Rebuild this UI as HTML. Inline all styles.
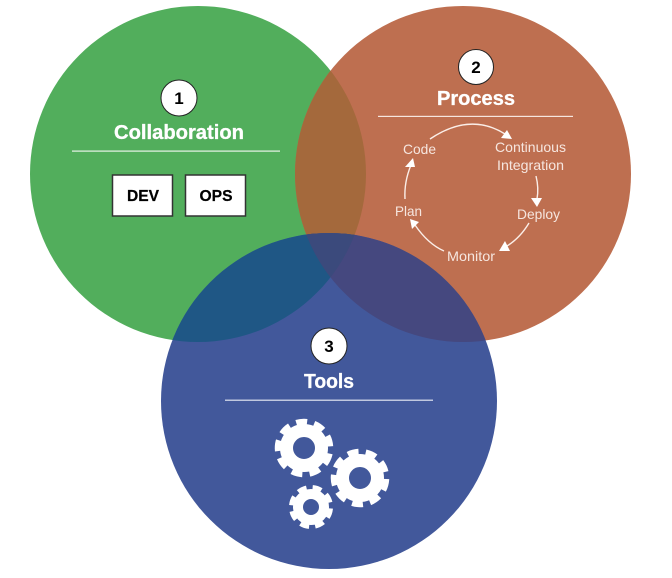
<!DOCTYPE html>
<html>
<head>
<meta charset="utf-8">
<style>
html,body{margin:0;padding:0;background:#fff;width:672px;height:578px;overflow:hidden}
svg{display:block}
text{font-family:"Liberation Sans",sans-serif}
.t{fill:#fff;font-weight:bold;font-size:20px;text-anchor:middle;stroke:#fff;stroke-width:.3}
.l{fill:#f6e6df;font-size:14px;text-anchor:middle}
.n{fill:#000;font-weight:bold;font-size:17px;text-anchor:middle}
.b{fill:#000;font-weight:bold;font-size:16px;text-anchor:middle;stroke:#000;stroke-width:.25}
.a{fill:none;stroke:#fbeee8;stroke-width:1.4}
.h{fill:#fff}
</style>
</head>
<body>
<svg width="672" height="578" viewBox="0 0 672 578" xmlns="http://www.w3.org/2000/svg">
<defs>
<clipPath id="cg"><circle cx="198" cy="174" r="168"/></clipPath>
<clipPath id="co"><circle cx="463" cy="174" r="168"/></clipPath>
<clipPath id="cb"><circle cx="329" cy="401" r="168"/></clipPath>
</defs>
<circle cx="198" cy="174" r="168" fill="#52ae5c"/>
<circle cx="463" cy="174" r="168" fill="#be6f50"/>
<circle cx="329" cy="401" r="168" fill="#42589b"/>
<g clip-path="url(#cg)"><circle cx="463" cy="174" r="168" fill="#a4693c"/></g>
<g clip-path="url(#cg)"><circle cx="329" cy="401" r="168" fill="#1f5785"/></g>
<g clip-path="url(#co)"><circle cx="329" cy="401" r="168" fill="#45487f"/></g>
<g clip-path="url(#cg)"><g clip-path="url(#co)"><circle cx="329" cy="401" r="168" fill="#3b4a7c"/></g></g>

<circle cx="179" cy="98" r="18" fill="#fff" stroke="#222" stroke-width="1"/>
<text class="n" x="179" y="104">1</text>
<text class="t" x="179" y="139" textLength="130" lengthAdjust="spacingAndGlyphs">Collaboration</text>
<rect x="72" y="150.5" width="208" height="1.2" fill="#e8f3e8"/>
<rect x="112.5" y="175" width="60" height="41" fill="#fff" stroke="#333" stroke-width="1.5"/>
<rect x="185.5" y="175" width="60" height="41" fill="#fff" stroke="#333" stroke-width="1.5"/>
<text class="b" x="143" y="201" textLength="32" lengthAdjust="spacingAndGlyphs">DEV</text>
<text class="b" x="216" y="201" textLength="33" lengthAdjust="spacingAndGlyphs">OPS</text>

<circle cx="476" cy="67" r="17.5" fill="#fff" stroke="#222" stroke-width="1"/>
<text class="n" x="476" y="73">2</text>
<text class="t" x="476" y="105" textLength="78" lengthAdjust="spacingAndGlyphs">Process</text>
<rect x="378" y="115.8" width="195" height="1.2" fill="#f6e6df"/>
<text class="l" x="419.5" y="154" textLength="33" lengthAdjust="spacingAndGlyphs">Code</text>
<text class="l" x="530.5" y="152" textLength="71" lengthAdjust="spacingAndGlyphs">Continuous</text>
<text class="l" x="530.5" y="170" textLength="67" lengthAdjust="spacingAndGlyphs">Integration</text>
<text class="l" x="538.5" y="219" textLength="43" lengthAdjust="spacingAndGlyphs">Deploy</text>
<text class="l" x="408.5" y="216" textLength="27" lengthAdjust="spacingAndGlyphs">Plan</text>
<text class="l" x="471" y="261" textLength="48" lengthAdjust="spacingAndGlyphs">Monitor</text>

<path class="a" d="M430 139 Q470 112 505 134"/>
<polygon class="h" points="512,139 501,138 507,130"/>
<path class="a" d="M536 176 Q539 188 537 199"/>
<polygon class="h" points="537,207 531,198 542,198"/>
<path class="a" d="M529 223 Q520 238 507 246"/>
<polygon class="h" points="499,251 510,251 505,241"/>
<path class="a" d="M444 251 Q428 244 415 225"/>
<polygon class="h" points="410,219 419,222 412,229"/>
<path class="a" d="M405 199 Q404 182 411 165"/>
<polygon class="h" points="413,158 405,167 415,167"/>

<circle cx="329" cy="346" r="18" fill="#fff" stroke="#222" stroke-width="1"/>
<text class="n" x="329" y="352">3</text>
<text class="t" x="329" y="388" textLength="50" lengthAdjust="spacingAndGlyphs">Tools</text>
<rect x="225" y="399.6" width="208" height="1.2" fill="#dfe3f0"/>

<g fill="none" stroke="#fff">
<circle cx="304" cy="448" r="17.5" stroke-width="13"/>
<circle cx="304" cy="448" r="26" stroke-width="6.5" pathLength="18" stroke-dasharray="1.2 .8" transform="rotate(14 304 448)"/>
<circle cx="360" cy="478" r="17.5" stroke-width="13"/>
<circle cx="360" cy="478" r="26" stroke-width="6.5" pathLength="18" stroke-dasharray="1.2 .8" transform="rotate(4 360 478)"/>
<circle cx="311" cy="507" r="13" stroke-width="10"/>
<circle cx="311" cy="507" r="19.5" stroke-width="5" pathLength="16" stroke-dasharray="1.2 .8" transform="rotate(6 311 507)"/>
</g>
</svg>
</body>
</html>
